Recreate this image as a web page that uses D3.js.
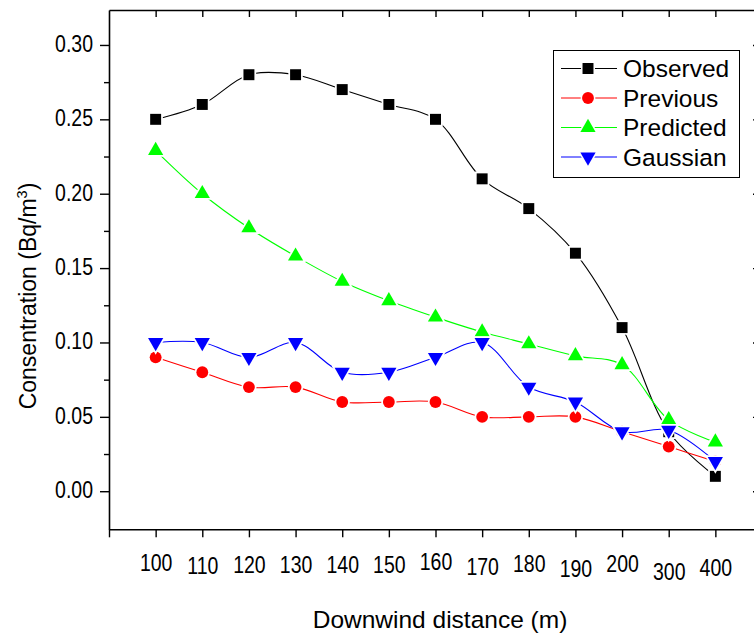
<!DOCTYPE html>
<html><head><meta charset="utf-8">
<script src="https://cdn.jsdelivr.net/npm/d3@7"></script>
<style>body{margin:0;background:#fff;} svg{display:block;font-family:"Liberation Sans",Arial,Helvetica,sans-serif;}</style>
</head><body><svg id="chart" width="754" height="637"></svg>
<script>
// ---- data ----
const distances = ["100","110","120","130","140","150","160","170","180","190","200","300","400"];
const observed  = [0.25,0.26,0.28,0.28,0.27,0.26,0.25,0.21,0.19,0.16,0.11,0.04,0.01];
const previous  = [0.09,0.08,0.07,0.07,0.06,0.06,0.06,0.05,0.05,0.05,0.04,0.03,0.02];
const predicted = [0.229,0.200,0.177,0.158,0.141,0.128,0.117,0.107,0.099,0.091,0.085,0.048,0.033];
const gaussian  = [0.10,0.10,0.09,0.10,0.08,0.08,0.09,0.10,0.07,0.06,0.04,0.041,0.02];
const yTicks = [0.00,0.05,0.10,0.15,0.20,0.25,0.30];
const seriesNames = ["Observed","Previous","Predicted","Gaussian"];

(function(){
// ---- styling ----
const seriesColors = ["#000000","#ff0000","#00ff00","#0000ff"];
const seriesSymbols = [d3.symbolSquare, d3.symbolCircle, d3.symbolTriangle, d3.symbolTriangle];
const symbolSizes = [120, 110, 100, 100];
const symbolRotate = [0,0,0,180];
const labelShift = [0,3,2,2,2,2,-1,4,1,6,1,9,5]; // vertical jitter of the x tick labels
const textStretch = 1.2;

const svg = d3.select("#chart");
const x = d3.scaleLinear().domain([-1, 13]).range([109, 762]);
const y = d3.scaleLinear().domain([-0.0256, 0.3235]).range([529.3, 10]);
const xL = x.range()[0], xR = x.range()[1], yT = y.range()[1], yB = y.range()[0];

function stretchText(sel){
  sel.each(function(){
    const t = d3.select(this);
    const tx = +t.attr("x")||0, ty = +t.attr("y")||0;
    t.attr("x",0).attr("y",0)
     .attr("transform", `translate(${tx},${ty}) scale(1,${textStretch})`);
  });
}

const minorTicks = d3.range(0.025, 0.3, 0.05);

// left axis
const gLeft = svg.append("g").attr("transform",`translate(${xL},0)`)
  .call(d3.axisLeft(y).tickValues(yTicks).tickFormat(d3.format(".2f")).tickSize(9).tickSizeOuter(0));
svg.append("g").attr("transform",`translate(${xL},0)`)
  .call(d3.axisLeft(y).tickValues(minorTicks).tickFormat("").tickSize(5).tickSizeOuter(0))
  .select(".domain").remove();
// right axis (inward ticks)
svg.append("g").attr("transform",`translate(${xR},0)`)
  .call(d3.axisLeft(y).tickValues(yTicks).tickFormat("").tickSize(9).tickSizeOuter(0));
svg.append("g").attr("transform",`translate(${xR},0)`)
  .call(d3.axisLeft(y).tickValues(minorTicks).tickFormat("").tickSize(5).tickSizeOuter(0))
  .select(".domain").remove();
// bottom axis
const gBottom = svg.append("g").attr("transform",`translate(0,${yB})`)
  .call(d3.axisBottom(x).tickValues(d3.range(-1,14)).tickFormat(i => distances[i] || "").tickSize(8).tickSizeOuter(0));
// top axis (inward ticks)
svg.append("g").attr("transform",`translate(0,${yT})`)
  .call(d3.axisBottom(x).tickValues(d3.range(0,13)).tickFormat("").tickSize(7).tickSizeOuter(0));

svg.selectAll(".domain").attr("stroke","#000").attr("stroke-width",1.6);
svg.selectAll(".tick line").attr("stroke","#000").attr("stroke-width",1.4);

// y tick labels
gLeft.selectAll(".tick text").attr("font-size",19.5).attr("fill","#000")
  .attr("font-family","Liberation Sans, Arial, sans-serif")
  .attr("x",-16).attr("dy",null).attr("y",6.5).attr("text-anchor","end");
stretchText(gLeft.selectAll(".tick text"));
// x tick labels
gBottom.selectAll(".tick text").attr("font-size",19.5).attr("fill","#000")
  .attr("font-family","Liberation Sans, Arial, sans-serif")
  .attr("dy",null).attr("y", (d) => 42 + (labelShift[d] || 0)).attr("x",0);
stretchText(gBottom.selectAll(".tick text"));

// axis titles
const yTitle = svg.append("text").attr("transform","translate(36,296) rotate(-90)")
  .attr("text-anchor","middle").attr("font-size",23).attr("fill","#000");
yTitle.append("tspan").text("Consentration (Bq/m");
yTitle.append("tspan").attr("font-size",14.5).attr("dy",-9.5).text("3");
yTitle.append("tspan").attr("dy",9.5).text(")");

svg.append("text").attr("x",440).attr("y",628).attr("text-anchor","middle")
  .attr("font-size",24.5).attr("fill","#000").text("Downwind distance (m)");

// series
const allSeries = [observed, previous, predicted, gaussian];
const line = d3.line().x((d,i)=>x(i)).y(d=>y(d)).curve(d3.curveCatmullRom.alpha(0.5));
allSeries.forEach((vals, s) => {
  const g = svg.append("g");
  g.append("path").datum(vals).attr("d", line).attr("fill","none")
    .attr("stroke", seriesColors[s]).attr("stroke-width",1.1);
  g.selectAll("path.m").data(vals).join("path").attr("class","m")
    .attr("d", d3.symbol(seriesSymbols[s], symbolSizes[s]))
    .attr("transform",(d,i)=>`translate(${x(i)},${y(d)}) rotate(${symbolRotate[s]})`)
    .attr("fill", seriesColors[s]).attr("stroke","#fff").attr("stroke-width",3.5)
    .attr("paint-order","stroke");
});

// legend
const lg = svg.append("g");
lg.append("rect").attr("x",553.5).attr("y",50.5).attr("width",186).attr("height",127)
  .attr("fill","#fff").attr("stroke","#000").attr("stroke-width",1);
const legendY = d3.scaleLinear().domain([0,3]).range([68.5,157]);
seriesNames.forEach((name, s) => {
  const yy = legendY(s);
  lg.append("line").attr("x1",561).attr("x2",617).attr("y1",yy).attr("y2",yy)
    .attr("stroke",seriesColors[s]).attr("stroke-width",1);
  lg.append("path").attr("d", d3.symbol(seriesSymbols[s], symbolSizes[s]))
    .attr("transform",`translate(588,${yy}) rotate(${symbolRotate[s]})`)
    .attr("fill",seriesColors[s]).attr("stroke","#fff").attr("stroke-width",3).attr("paint-order","stroke");
  lg.append("text").attr("x",623).attr("y",yy+8.5).attr("font-size",24.5).attr("fill","#000").text(name);
});
})();
</script></body></html>
